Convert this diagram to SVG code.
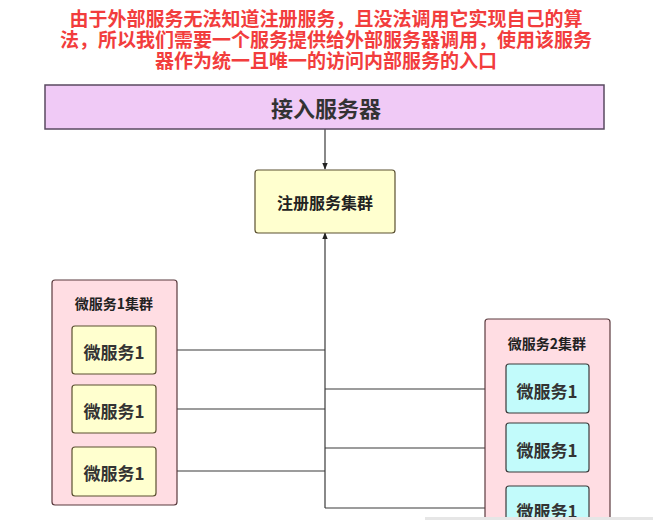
<svg xmlns="http://www.w3.org/2000/svg" width="653" height="520" viewBox="0 0 653 520">
<defs>
<style>
text{font-family:"Noto Sans CJK SC","Noto Sans",sans-serif;font-weight:bold;text-anchor:middle;dominant-baseline:central}
.note{fill:#f23d3d;font-size:19px}
.lbl{fill:#333;font-size:17px}
.small{fill:#222;font-size:14px}
.cl{fill:#ffdde3;stroke:#5a3a3e;stroke-width:1.2}
.yb{fill:#ffffcf;stroke:#5a5030;stroke-width:1.2}
.cb{fill:#c2fbfb;stroke:#3a3a3a;stroke-width:1.2}
.ln{stroke:#3a3a3a;stroke-width:1.2;fill:none}
</style>
<marker id="ah" viewBox="0 0 10 10" refX="9" refY="5" markerWidth="7" markerHeight="7" orient="auto-start-reverse" markerUnits="userSpaceOnUse">
<path d="M0,1 L10,5 L0,9 Z" fill="#222"/>
</marker>
</defs>
<rect width="653" height="520" fill="#fff"/>
<g id="note">
<text class="note" x="326" y="17">由于外部服务无法知道注册服务，且没法调用它实现自己的算</text>
<text class="note" x="326" y="38">法，所以我们需要一个服务提供给外部服务器调用，使用该服务</text>
<text class="note" x="326" y="59">器作为统一且唯一的访问内部服务的入口</text>
</g>
<g id="connectors">
<line class="ln" x1="325" y1="129" x2="325" y2="169" marker-end="url(#ah)"/>
<line class="ln" x1="325" y1="508" x2="325" y2="233" marker-end="url(#ah)"/>
<line class="ln" x1="156" y1="350" x2="325" y2="350"/>
<line class="ln" x1="156" y1="409" x2="325" y2="409"/>
<line class="ln" x1="156" y1="471" x2="325" y2="471"/>
<line class="ln" x1="325" y1="389" x2="506" y2="389"/>
<line class="ln" x1="325" y1="448" x2="506" y2="448"/>
<line class="ln" x1="325" y1="508" x2="506" y2="508"/>
</g>
<g id="access">
<rect x="45" y="85" width="559" height="44" fill="#f0caf6" stroke="#5a4a60" stroke-width="1.5"/>
<text x="326" y="107" style="font-size:22px;fill:#333">接入服务器</text>
</g>
<g id="registry">
<rect x="255" y="170" width="140" height="63" rx="3" class="yb"/>
<text class="small" x="325" y="202" style="font-size:16px">注册服务集群</text>
</g>
<g id="cluster1">
<rect x="52" y="280" width="125" height="225" rx="3" class="cl"/>
<text class="small" x="114" y="303">微服务1集群</text>
</g>
<g id="ms1a"><rect x="72" y="326" width="84" height="48" rx="3" class="yb"/><text class="lbl" x="114" y="351">微服务1</text></g>
<g id="ms1b"><rect x="72" y="385" width="84" height="48" rx="3" class="yb"/><text class="lbl" x="114" y="410">微服务1</text></g>
<g id="ms1c"><rect x="72" y="447" width="84" height="49" rx="3" class="yb"/><text class="lbl" x="114" y="472">微服务1</text></g>
<g id="cluster2">
<rect x="485" y="319" width="125" height="215" rx="3" class="cl"/>
<text class="small" x="547" y="343">微服务2集群</text>
</g>
<g id="ms2a"><rect x="506" y="364" width="83" height="49" rx="3" class="cb"/><text class="lbl" x="547" y="390">微服务1</text></g>
<g id="ms2b"><rect x="506" y="423" width="83" height="49" rx="3" class="cb"/><text class="lbl" x="547" y="449">微服务1</text></g>
<g id="ms2c"><rect x="506" y="486" width="83" height="49" rx="3" class="cb"/><text class="lbl" x="547" y="510">微服务1</text></g>
<rect x="425" y="517" width="228" height="3" fill="#e6e6e6"/>
</svg>
